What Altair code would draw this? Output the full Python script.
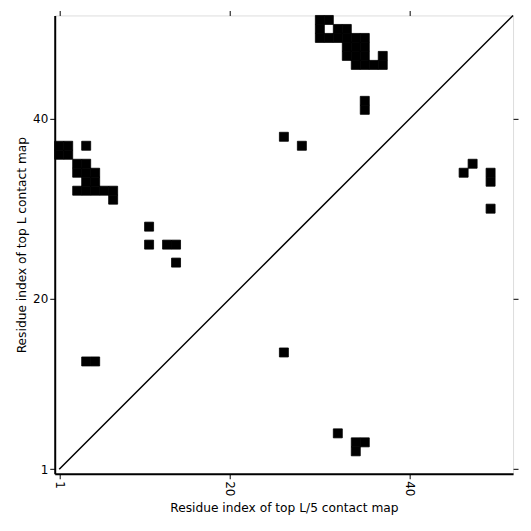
import altair as alt
import pandas as pd

# contact cells (residue i on x, residue j on y)
cell_x = [1, 2, 1, 2, 4,
          3, 4, 3, 4, 5, 4, 5, 3, 4, 5, 6, 7, 7,
          11, 11, 13, 14, 14,
          4, 5, 26,
          26, 28,
          30, 31, 30, 32, 33, 30, 31, 32, 33, 34, 35, 33, 34, 35, 33, 34, 35, 37, 34, 35, 36, 37,
          35, 35,
          32, 34, 35, 34,
          47, 46, 49, 49, 49]
cell_y = [36, 36, 37, 37, 37,
          35, 35, 34, 34, 34, 33, 33, 32, 32, 32, 32, 32, 31,
          28, 26, 26, 26, 24,
          13, 13, 14,
          38, 37,
          51, 51, 50, 50, 50, 49, 49, 49, 49, 49, 49, 48, 48, 48, 47, 47, 47, 47, 46, 46, 46, 46,
          42, 41,
          5, 4, 4, 3,
          35, 34, 34, 33, 30]

diag_vals = [1, 51.5]
tick_vals = [1, 20, 40]
domain = [0.5, 51.5]

cells = pd.DataFrame({"i": cell_x, "j": cell_y})
diag = pd.DataFrame({"a": diag_vals})

FONT = "DejaVu Sans"

xs = alt.Scale(domain=domain, nice=False, zero=False)
ys = alt.Scale(domain=domain, nice=False, zero=False)

ax_common = dict(values=tick_vals, grid=False, tickColor="black", tickSize=5, tickWidth=1,
                 domainColor="black", domainWidth=2, labelColor="black",
                 labelFont=FONT, labelFontSize=12, titleFont=FONT, titleFontSize=12.3,
                 titleFontWeight="normal", titleColor="black")

rects = alt.Chart(cells).transform_calculate(
    x0="datum.i - 0.5", x1="datum.i + 0.5", y0="datum.j - 0.5", y1="datum.j + 0.5"
).mark_rect(color="black", stroke="black", strokeWidth=0.8).encode(
    x=alt.X("x0:Q", scale=xs, axis=alt.Axis(title="Residue index of top L/5 contact map",
                                             labelAngle=90, labelAlign="left", labelBaseline="middle",
                                             titlePadding=6, **ax_common)),
    x2="x1:Q",
    y=alt.Y("y0:Q", scale=ys, axis=alt.Axis(title="Residue index of top L contact map", **ax_common)),
    y2="y1:Q",
)

line = alt.Chart(diag).mark_line(color="black", strokeWidth=1.5).encode(
    x=alt.X("a:Q", scale=xs, axis=alt.Axis(orient="top", labels=False, title=None, values=tick_vals,
                                            grid=False, domain=False, tickColor="black", tickSize=5)),
    y=alt.Y("a:Q", scale=ys, axis=alt.Axis(orient="right", labels=False, title=None, values=tick_vals,
                                            grid=False, domain=False, tickColor="black", tickSize=5)),
)

chart = alt.layer(rects, line).resolve_axis(x="independent", y="independent").properties(
    width=461, height=461,
    autosize=alt.AutoSizeParams(type="none"),
    padding={"left": 47, "top": 6, "right": 10, "bottom": 50},
).configure_view(stroke="black", strokeWidth=2).configure(background="white")

chart.save("out.html", embed_options={"renderer": "svg", "actions": False})
